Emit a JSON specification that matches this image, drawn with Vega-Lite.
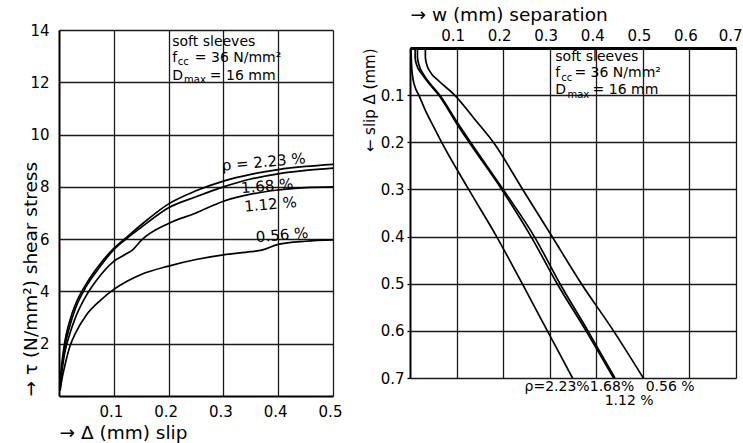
{
  "$schema": "https://vega.github.io/schema/vega-lite/v6.json",
  "background": "white",
  "padding": {"left": 21, "top": 5, "right": 2, "bottom": 2},
  "config": {
    "view": {"stroke": null},
    "font": "DejaVu Sans",
    "axis": {
      "grid": true,
      "gridColor": "#1a1a1a",
      "gridWidth": 1.3,
      "gridOpacity": 1,
      "domainColor": "black",
      "domainWidth": 2,
      "ticks": false,
      "labelColor": "black",
      "labelFontSize": 15,
      "labelFlush": false,
      "labelOverlap": false,
      "titleColor": "black",
      "titleFontWeight": "normal",
      "titleFontSize": 18.5
    },
    "text": {"font": "DejaVu Sans", "color": "black"}
  },
  "columns": 2,
  "bounds": "flush",
  "center": true,
  "spacing": 77,
  "datasets": {
    "left": [
      {"series": "2.23", "slip": 0.002, "tau": 0.5}, {"series": "2.23", "slip": 0.005, "tau": 1.2}, {"series": "2.23", "slip": 0.01, "tau": 2.0}, {"series": "2.23", "slip": 0.02, "tau": 2.9}, {"series": "2.23", "slip": 0.03, "tau": 3.5}, {"series": "2.23", "slip": 0.05, "tau": 4.3}, {"series": "2.23", "slip": 0.075, "tau": 5.05}, {"series": "2.23", "slip": 0.1, "tau": 5.65}, {"series": "2.23", "slip": 0.125, "tau": 6.1}, {"series": "2.23", "slip": 0.15, "tau": 6.55}, {"series": "2.23", "slip": 0.2, "tau": 7.35}, {"series": "2.23", "slip": 0.25, "tau": 7.85}, {"series": "2.23", "slip": 0.3, "tau": 8.22}, {"series": "2.23", "slip": 0.35, "tau": 8.48}, {"series": "2.23", "slip": 0.4, "tau": 8.66}, {"series": "2.23", "slip": 0.45, "tau": 8.78}, {"series": "2.23", "slip": 0.5, "tau": 8.86},
      {"series": "1.68", "slip": 0.002, "tau": 0.4}, {"series": "1.68", "slip": 0.005, "tau": 1.0}, {"series": "1.68", "slip": 0.01, "tau": 1.8}, {"series": "1.68", "slip": 0.02, "tau": 2.7}, {"series": "1.68", "slip": 0.03, "tau": 3.35}, {"series": "1.68", "slip": 0.05, "tau": 4.2}, {"series": "1.68", "slip": 0.075, "tau": 4.95}, {"series": "1.68", "slip": 0.1, "tau": 5.6}, {"series": "1.68", "slip": 0.125, "tau": 6.05}, {"series": "1.68", "slip": 0.15, "tau": 6.45}, {"series": "1.68", "slip": 0.2, "tau": 7.2}, {"series": "1.68", "slip": 0.25, "tau": 7.62}, {"series": "1.68", "slip": 0.3, "tau": 8.0}, {"series": "1.68", "slip": 0.35, "tau": 8.3}, {"series": "1.68", "slip": 0.4, "tau": 8.5}, {"series": "1.68", "slip": 0.45, "tau": 8.63}, {"series": "1.68", "slip": 0.5, "tau": 8.72},
      {"series": "1.12", "slip": 0.002, "tau": 0.3}, {"series": "1.12", "slip": 0.005, "tau": 0.9}, {"series": "1.12", "slip": 0.01, "tau": 1.6}, {"series": "1.12", "slip": 0.02, "tau": 2.4}, {"series": "1.12", "slip": 0.03, "tau": 3.0}, {"series": "1.12", "slip": 0.05, "tau": 3.85}, {"series": "1.12", "slip": 0.075, "tau": 4.6}, {"series": "1.12", "slip": 0.1, "tau": 5.15}, {"series": "1.12", "slip": 0.12, "tau": 5.4}, {"series": "1.12", "slip": 0.135, "tau": 5.6}, {"series": "1.12", "slip": 0.15, "tau": 5.95}, {"series": "1.12", "slip": 0.2, "tau": 6.6}, {"series": "1.12", "slip": 0.25, "tau": 7.0}, {"series": "1.12", "slip": 0.3, "tau": 7.45}, {"series": "1.12", "slip": 0.35, "tau": 7.72}, {"series": "1.12", "slip": 0.4, "tau": 7.88}, {"series": "1.12", "slip": 0.45, "tau": 7.97}, {"series": "1.12", "slip": 0.5, "tau": 8.0},
      {"series": "0.56", "slip": 0.002, "tau": 0.2}, {"series": "0.56", "slip": 0.005, "tau": 0.6}, {"series": "0.56", "slip": 0.01, "tau": 1.1}, {"series": "0.56", "slip": 0.02, "tau": 1.9}, {"series": "0.56", "slip": 0.03, "tau": 2.4}, {"series": "0.56", "slip": 0.05, "tau": 3.1}, {"series": "0.56", "slip": 0.075, "tau": 3.65}, {"series": "0.56", "slip": 0.1, "tau": 4.08}, {"series": "0.56", "slip": 0.125, "tau": 4.4}, {"series": "0.56", "slip": 0.15, "tau": 4.65}, {"series": "0.56", "slip": 0.2, "tau": 4.97}, {"series": "0.56", "slip": 0.25, "tau": 5.22}, {"series": "0.56", "slip": 0.3, "tau": 5.4}, {"series": "0.56", "slip": 0.35, "tau": 5.52}, {"series": "0.56", "slip": 0.37, "tau": 5.58}, {"series": "0.56", "slip": 0.4, "tau": 5.8}, {"series": "0.56", "slip": 0.45, "tau": 5.92}, {"series": "0.56", "slip": 0.5, "tau": 5.97}
    ],
    "right": [
      {"series": "2.23", "slip": 0.0, "w": 0.002}, {"series": "2.23", "slip": 0.03, "w": 0.003}, {"series": "2.23", "slip": 0.056, "w": 0.005}, {"series": "2.23", "slip": 0.08, "w": 0.01}, {"series": "2.23", "slip": 0.1, "w": 0.019}, {"series": "2.23", "slip": 0.13, "w": 0.032}, {"series": "2.23", "slip": 0.16, "w": 0.047}, {"series": "2.23", "slip": 0.2, "w": 0.068}, {"series": "2.23", "slip": 0.3, "w": 0.126}, {"series": "2.23", "slip": 0.4, "w": 0.186}, {"series": "2.23", "slip": 0.5, "w": 0.241}, {"series": "2.23", "slip": 0.6, "w": 0.295}, {"series": "2.23", "slip": 0.7, "w": 0.349},
      {"series": "1.68", "slip": 0.0, "w": 0.011}, {"series": "1.68", "slip": 0.02, "w": 0.011}, {"series": "1.68", "slip": 0.035, "w": 0.014}, {"series": "1.68", "slip": 0.056, "w": 0.026}, {"series": "1.68", "slip": 0.08, "w": 0.045}, {"series": "1.68", "slip": 0.1, "w": 0.062}, {"series": "1.68", "slip": 0.16, "w": 0.1}, {"series": "1.68", "slip": 0.2, "w": 0.127}, {"series": "1.68", "slip": 0.3, "w": 0.197}, {"series": "1.68", "slip": 0.4, "w": 0.26}, {"series": "1.68", "slip": 0.5, "w": 0.316}, {"series": "1.68", "slip": 0.6, "w": 0.378}, {"series": "1.68", "slip": 0.7, "w": 0.437},
      {"series": "1.12", "slip": 0.0, "w": 0.016}, {"series": "1.12", "slip": 0.02, "w": 0.016}, {"series": "1.12", "slip": 0.035, "w": 0.019}, {"series": "1.12", "slip": 0.056, "w": 0.029}, {"series": "1.12", "slip": 0.08, "w": 0.047}, {"series": "1.12", "slip": 0.1, "w": 0.064}, {"series": "1.12", "slip": 0.16, "w": 0.103}, {"series": "1.12", "slip": 0.2, "w": 0.13}, {"series": "1.12", "slip": 0.3, "w": 0.2}, {"series": "1.12", "slip": 0.4, "w": 0.267}, {"series": "1.12", "slip": 0.5, "w": 0.322}, {"series": "1.12", "slip": 0.6, "w": 0.382}, {"series": "1.12", "slip": 0.7, "w": 0.44},
      {"series": "0.56", "slip": 0.0, "w": 0.033}, {"series": "0.56", "slip": 0.02, "w": 0.033}, {"series": "0.56", "slip": 0.035, "w": 0.036}, {"series": "0.56", "slip": 0.05, "w": 0.043}, {"series": "0.56", "slip": 0.07, "w": 0.062}, {"series": "0.56", "slip": 0.1, "w": 0.096}, {"series": "0.56", "slip": 0.15, "w": 0.138}, {"series": "0.56", "slip": 0.2, "w": 0.179}, {"series": "0.56", "slip": 0.3, "w": 0.242}, {"series": "0.56", "slip": 0.4, "w": 0.305}, {"series": "0.56", "slip": 0.5, "w": 0.368}, {"series": "0.56", "slip": 0.6, "w": 0.437}, {"series": "0.56", "slip": 0.7, "w": 0.501}
    ],
    "leftLabels": [
      {"label": "ρ = 2.23 %", "slip": 0.3735, "tau": 8.95},
      {"label": "1.68 %", "slip": 0.38, "tau": 8.03},
      {"label": "1.12 %", "slip": 0.386, "tau": 7.33},
      {"label": "0.56 %", "slip": 0.407, "tau": 6.16}
    ],
    "leftNote": [
      {"text": "soft sleeves", "slip": 0.2066, "tau": 13.56},
      {"text": "f", "slip": 0.2066, "tau": 12.92},
      {"text": "= 36 N/mm²", "slip": 0.2478, "tau": 12.92},
      {"text": "D", "slip": 0.2066, "tau": 12.24},
      {"text": "= 16 mm", "slip": 0.2752, "tau": 12.24}
    ],
    "leftNoteSub": [
      {"text": "cc", "slip": 0.2168, "tau": 12.92},
      {"text": "max", "slip": 0.2282, "tau": 12.24}
    ],
    "rightLabels": [
      {"label": "ρ=2.23%", "w": 0.246, "slip": 0.719},
      {"label": "1.68%", "w": 0.386, "slip": 0.719},
      {"label": "0.56 %", "w": 0.506, "slip": 0.719},
      {"label": "1.12 %", "w": 0.418, "slip": 0.748}
    ],
    "rightNote": [
      {"text": "soft sleeves", "w": 0.312, "slip": 0.02},
      {"text": "f", "w": 0.312, "slip": 0.053},
      {"text": "= 36 N/mm²", "w": 0.353, "slip": 0.053},
      {"text": "D", "w": 0.312, "slip": 0.089},
      {"text": "= 16 mm", "w": 0.392, "slip": 0.089}
    ],
    "rightNoteSub": [
      {"text": "cc", "w": 0.325, "slip": 0.053},
      {"text": "max", "w": 0.338, "slip": 0.089}
    ]
  },
  "concat": [
    {
      "width": 274,
      "height": 366,
      "encoding": {
        "x": {"field": "slip", "type": "quantitative",
          "scale": {"domain": [0, 0.5], "nice": false, "zero": false},
          "axis": {"values": [0.1, 0.2, 0.3, 0.4, 0.5], "format": ".1f", "labelPadding": 8, "labelOffset": -3, "title": "→   Δ (mm) slip", "titleAnchor": "start", "titlePadding": 4}},
        "y": {"field": "tau", "type": "quantitative",
          "scale": {"domain": [0, 14], "nice": false},
          "axis": {"values": [2, 4, 6, 8, 10, 12, 14], "format": "d", "labelPadding": 10, "title": "→  τ (N/mm²)  shear stress", "titleAnchor": "start", "titlePadding": -11}}
      },
      "layer": [
        {
          "data": {"values": [{}]},
          "mark": {"type": "rect", "fill": "white"},
          "encoding": {"x": {"datum": 0.203}, "x2": {"datum": 0.395}, "y": {"datum": 12.1}, "y2": {"datum": 13.95}}
        },
        {
          "data": {"name": "left"},
          "mark": {"type": "line", "stroke": "black", "strokeWidth": 1.7, "interpolate": "monotone"},
          "encoding": {"detail": {"field": "series"}}
        },
        {
          "data": {"name": "leftLabels"},
          "mark": {"type": "text", "fontSize": 15, "angle": 355, "align": "center", "baseline": "middle"},
          "encoding": {"text": {"field": "label"}}
        },
        {
          "data": {"name": "leftNote"},
          "mark": {"type": "text", "fontSize": 14, "align": "left", "baseline": "middle"},
          "encoding": {"text": {"field": "text"}}
        },
        {
          "data": {"name": "leftNoteSub"},
          "mark": {"type": "text", "fontSize": 10, "align": "left", "baseline": "middle", "dy": 4},
          "encoding": {"text": {"field": "text"}}
        }
      ]
    },
    {
      "width": 326,
      "height": 330,
      "encoding": {
        "x": {"field": "w", "type": "quantitative",
          "scale": {"domain": [0, 0.7], "nice": false, "zero": false},
          "axis": {"orient": "top", "values": [0.1, 0.2, 0.3, 0.4, 0.5, 0.6, 0.7], "format": ".1f", "labelPadding": 5, "labelOffset": -4, "labelFlush": true, "labelFlushOffset": 10, "domainWidth": 3, "title": "→  w (mm) separation", "titleAnchor": "start", "titlePadding": 4}},
        "y": {"field": "slip", "type": "quantitative",
          "scale": {"domain": [0.7, 0], "nice": false, "zero": false},
          "axis": {"values": [0.1, 0.2, 0.3, 0.4, 0.5, 0.6, 0.7], "format": ".1f", "ticks": true, "tickSize": 3, "tickColor": "black", "tickWidth": 1.3, "labelPadding": 3, "title": "←  slip Δ (mm)", "titleFontSize": 15, "titleAnchor": "end", "titlePadding": 3}}
      },
      "layer": [
        {
          "data": {"values": [{}]},
          "mark": {"type": "rect", "fill": "white"},
          "encoding": {"x": {"datum": 0.305}, "x2": {"datum": 0.532}, "y": {"datum": 0.004}, "y2": {"datum": 0.112}}
        },
        {
          "data": {"name": "right"},
          "mark": {"type": "line", "stroke": "black", "strokeWidth": 1.7, "interpolate": "monotone"},
          "encoding": {"detail": {"field": "series"}, "order": {"field": "slip"}}
        },
        {
          "data": {"name": "rightLabels"},
          "mark": {"type": "text", "fontSize": 14, "align": "left", "baseline": "middle"},
          "encoding": {"text": {"field": "label"}}
        },
        {
          "data": {"name": "rightNote"},
          "mark": {"type": "text", "fontSize": 14, "align": "left", "baseline": "middle"},
          "encoding": {"text": {"field": "text"}}
        },
        {
          "data": {"name": "rightNoteSub"},
          "mark": {"type": "text", "fontSize": 10, "align": "left", "baseline": "middle", "dy": 5},
          "encoding": {"text": {"field": "text"}}
        }
      ]
    }
  ]
}
